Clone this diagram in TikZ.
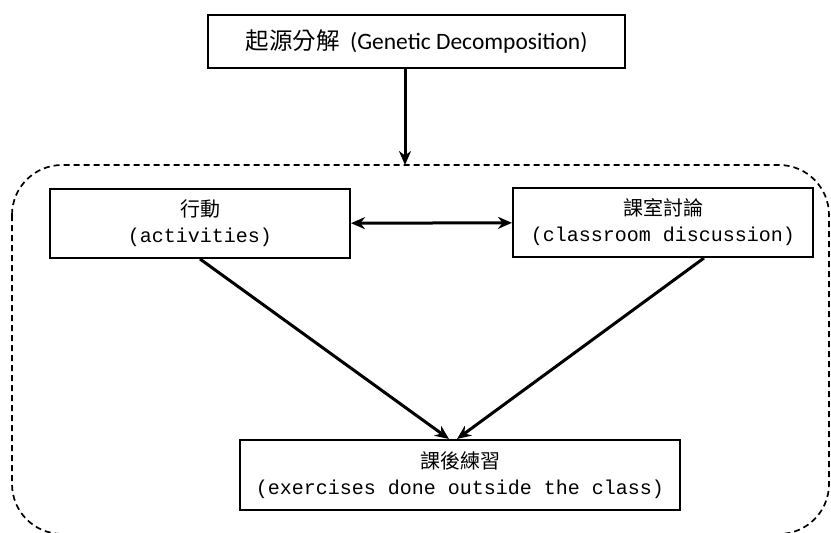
\documentclass[tikz,border=0pt]{standalone}
\usepackage{fontspec}
\newfontfamily\cjk{Noto Sans CJK TC}
\newfontfamily\calib{Carlito}
\newfontfamily\monofont{Liberation Mono}
\usepackage{tikz}
\usetikzlibrary{positioning, arrows.meta}

\begin{document}
\begin{tikzpicture}[x=1pt, y=-1pt,
    box/.style={draw, line width=2pt, rectangle, align=center, inner sep=0pt},
    arr/.style={line width=3pt, -{Stealth[length=14pt, width=12pt]}},
    lbl/.style={font=\fontsize{20}{26}\selectfont\monofont}]
    \useasboundingbox (0,0) rectangle (831,533);
    \clip (0,0) rectangle (831,533);

    % Draw the group frame
    \draw[line width=1.7pt, dash pattern=on 6pt off 4pt, rounded corners=50pt] (12,165) rectangle (829,534);
    \coordinate (grp) at (405,165);

    % Boxes
    \node[box, minimum width=417pt, minimum height=53pt, font=\fontsize{23.5}{28}\selectfont\calib]
      (gen) at (416.5,41.5) {{\cjk 起源分解}\ \ (Genetic Decomposition)};
    \node[box, lbl, minimum width=300pt, minimum height=69pt] (act) at (200,223.5) {{\cjk 行動}\\(activities)};
    \node[box, lbl, minimum width=300pt, minimum height=69pt] (disc) at (663,222.5) {{\cjk 課室討論}\\(classroom discussion)};
    \node[box, lbl, minimum width=440pt, minimum height=70pt] (ex) at (460,475) {{\cjk 課後練習}\\(exercises done outside the class)};

    % Draw arrows
    \draw[arr] (gen.south -| grp) -- (grp);
    \draw[line width=3pt, {Stealth[length=14pt, width=12pt]}-{Stealth[length=14pt, width=12pt]}] (act) -- (disc);
    \draw[arr] (act.south) -- ([xshift=-11pt]ex.north);
    \draw[arr] ([xshift=41pt]disc.south) -- ([xshift=-3pt]ex.north);
\end{tikzpicture}
\end{document}
